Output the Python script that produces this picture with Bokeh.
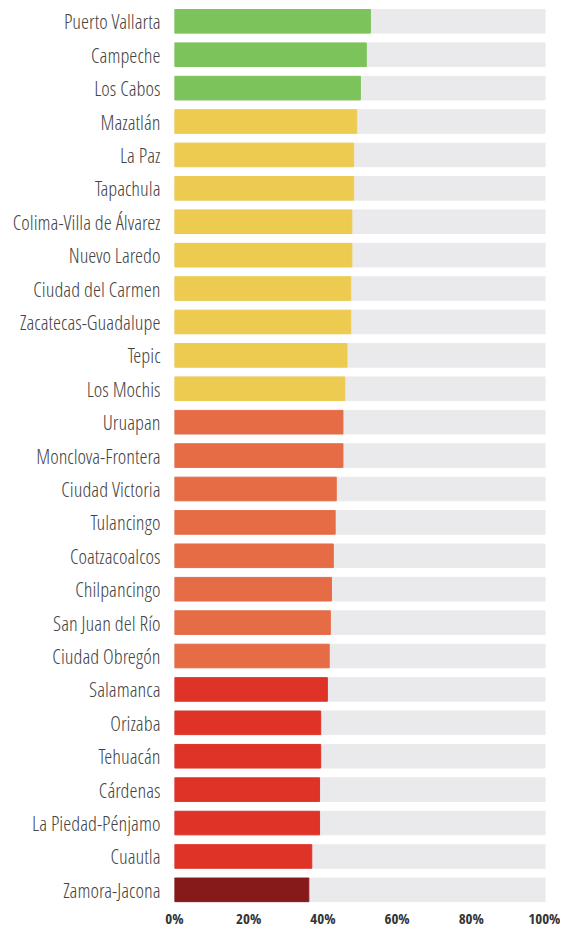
from bokeh.plotting import figure
from bokeh.models import Range1d, FixedTicker, PrintfTickFormatter, ColumnDataSource
from bokeh.embed import file_html
from bokeh.resources import INLINE

cities = ["Puerto Vallarta", "Campeche", "Los Cabos", "Mazatlán", "La Paz", "Tapachula",
          "Colima-Villa de Álvarez", "Nuevo Laredo", "Ciudad del Carmen", "Zacatecas-Guadalupe",
          "Tepic", "Los Mochis", "Uruapan", "Monclova-Frontera", "Ciudad Victoria", "Tulancingo",
          "Coatzacoalcos", "Chilpancingo", "San Juan del Río", "Ciudad Obregón", "Salamanca",
          "Orizaba", "Tehuacán", "Cárdenas", "La Piedad-Pénjamo", "Cuautla", "Zamora-Jacona"]
values = [52.8, 51.7, 50.1, 49.1, 48.3, 48.3, 47.8, 47.8, 47.5, 47.5, 46.5, 45.9,
          45.4, 45.4, 43.6, 43.3, 42.8, 42.3, 42.0, 41.7,
          41.2, 39.4, 39.4, 39.1, 39.1, 37.0, 36.2]
tiers = ["A"] * 3 + ["B"] * 9 + ["C"] * 8 + ["D"] * 6 + ["E"]
tier_colors = {"A": "#7DC35B", "B": "#EDCB50", "C": "#E66C45", "D": "#DF3328", "E": "#86191A"}
ticks = [0, 20, 40, 60, 80, 100]
full_scale = 100

n = len(cities)
pos = list(range(n))
src = ColumnDataSource(dict(
    y=pos, v=values, full=[full_scale] * n,
    color=[tier_colors[t] for t in tiers],
))

pitch = 33.7
frame_h = 915
top_units = 21 / pitch
p = figure(width=560, height=930, output_backend="svg", toolbar_location=None,
           x_range=Range1d(0, full_scale),
           y_range=Range1d(frame_h / pitch - top_units, -top_units),
           min_border_left=174, min_border_right=15, min_border_top=0, min_border_bottom=930 - frame_h)
p.outline_line_color = None
p.xgrid.visible = False
p.ygrid.visible = False

bh = 24 / 34
p.hbar(y="y", left=0, right="full", height=bh, color="#EAEAEC", source=src)
p.hbar(y="y", left=0, right="v", height=bh, color="color", source=src)

ya = p.yaxis[0]
ya.ticker = FixedTicker(ticks=pos)
ya.major_label_overrides = {i: c for i, c in zip(pos, cities)}
ya.axis_line_color = None
ya.major_tick_line_color = None
ya.minor_tick_line_color = None
ya.major_tick_out = 0
ya.major_tick_in = 0
ya.major_label_standoff = 14
ya.major_label_text_font = "Open Sans Condensed Light"
ya.major_label_text_font_size = "20.5px"
ya.major_label_text_color = "#444444"

xa = p.xaxis[0]
xa.ticker = FixedTicker(ticks=ticks)
xa.formatter = PrintfTickFormatter(format="%d%%")
xa.axis_line_color = None
xa.major_tick_line_color = None
xa.minor_tick_line_color = None
xa.major_tick_out = 0
xa.major_tick_in = 0
xa.major_label_standoff = 0
xa.major_label_text_font = "Open Sans Condensed"
xa.major_label_text_font_style = "bold"
xa.major_label_text_font_size = "15px"
xa.major_label_text_color = "#333333"

open("out.html", "w").write(file_html(p, INLINE))
